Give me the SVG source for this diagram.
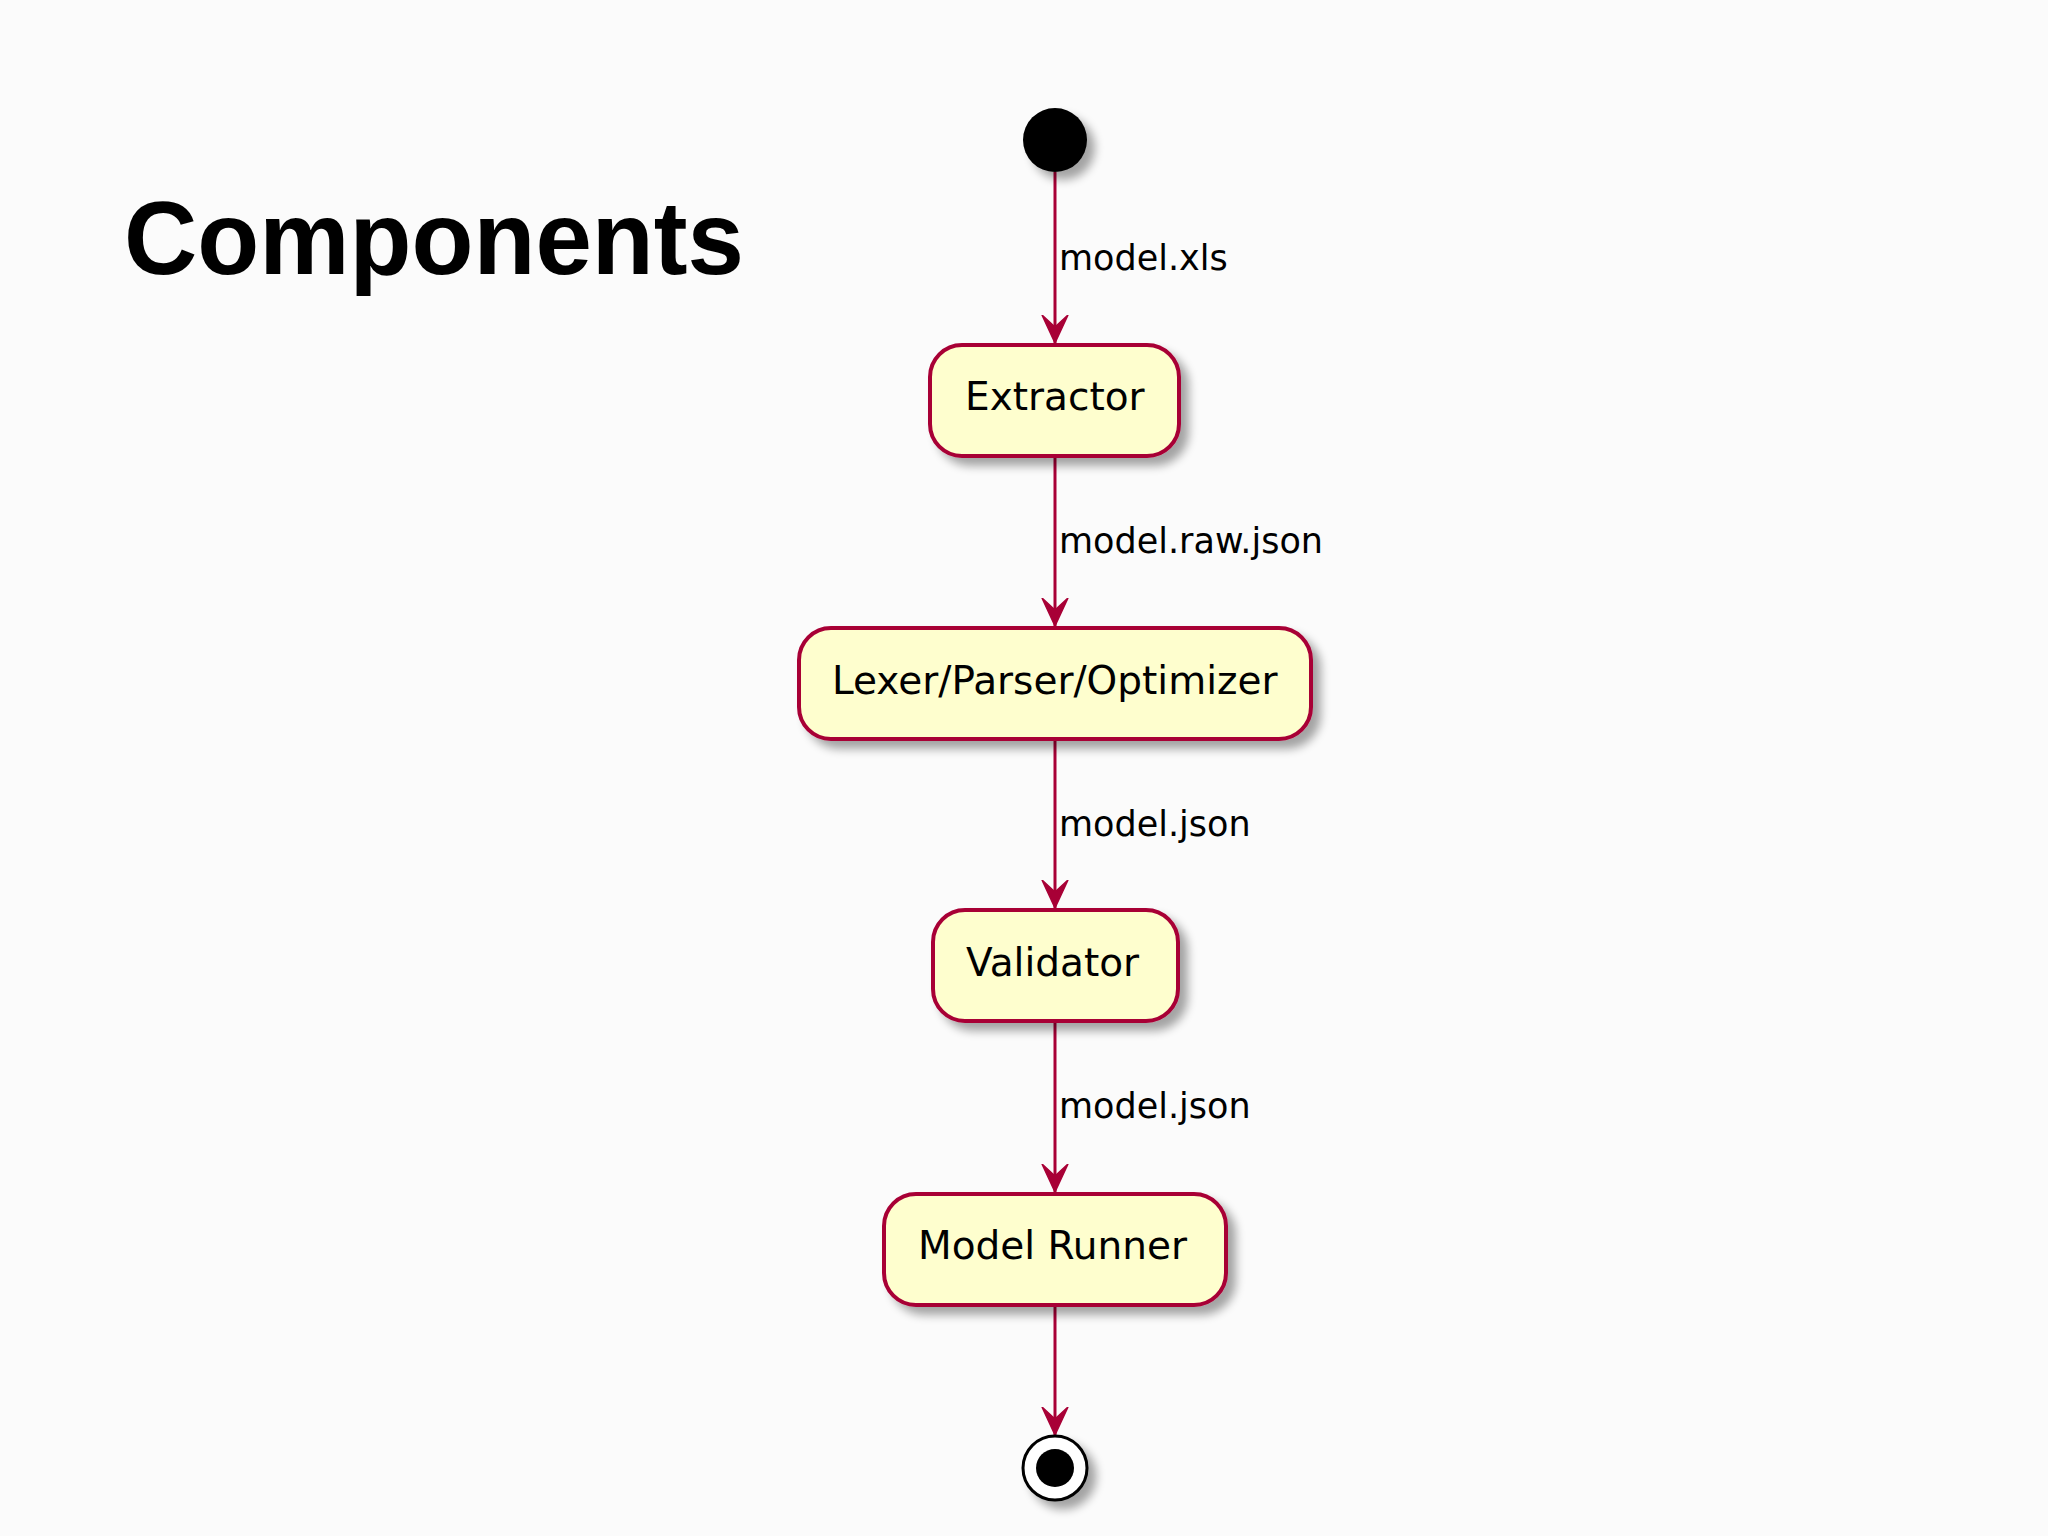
<svg xmlns="http://www.w3.org/2000/svg" width="2048" height="1536" viewBox="0 0 2048 1536">
<defs>
<style>
.node rect{fill:#FEFECE;stroke:#A80036;stroke-width:4;filter:url(#sh)}
.ntext{font-family:"DejaVu Sans",sans-serif;font-size:39px;fill:#000}
.ltext{font-family:"DejaVu Sans",sans-serif;font-size:35px;fill:#000}
.edge{stroke:#A80036;stroke-width:3;fill:none;marker-end:url(#arr)}
</style>
<filter id="sh" x="-20%" y="-20%" width="150%" height="160%">
<feGaussianBlur in="SourceAlpha" stdDeviation="5"/>
<feOffset dx="8" dy="8" result="b"/>
<feComponentTransfer><feFuncA type="linear" slope="0.35"/></feComponentTransfer>
<feMerge><feMergeNode/><feMergeNode in="SourceGraphic"/></feMerge>
</filter>
<marker id="arr" markerUnits="userSpaceOnUse" markerWidth="30" markerHeight="30" refX="28" refY="14" orient="auto" viewBox="0 0 30 30">
<path d="M28,14 L0,1 L12,14 L0,27 Z" fill="#A80036" stroke="#A80036" stroke-width="1.5"/>
</marker>
</defs>
<rect width="2048" height="1536" fill="#FBFBFB"/>
<text x="124" y="274" font-family="Liberation Sans, Arial, sans-serif" font-weight="bold" font-size="104" textLength="620" lengthAdjust="spacingAndGlyphs">Components</text>
<g id="connectors">
<line class="edge" x1="1055" y1="172" x2="1055" y2="343"/>
<text class="ltext" x="1059" y="270">model.xls</text>
<line class="edge" x1="1055" y1="456" x2="1055" y2="626"/>
<text class="ltext" x="1059" y="553">model.raw.json</text>
<line class="edge" x1="1055" y1="739" x2="1055" y2="908"/>
<text class="ltext" x="1059" y="836">model.json</text>
<line class="edge" x1="1055" y1="1021" x2="1055" y2="1192"/>
<text class="ltext" x="1059" y="1118">model.json</text>
<line class="edge" x1="1055" y1="1305" x2="1055" y2="1435"/>
</g>
<g id="start"><circle cx="1055" cy="140" r="32" fill="#000" filter="url(#sh)"/></g>
<g id="extractor" class="node"><rect x="930" y="345" width="249" height="111" rx="32"/><text class="ntext" x="965" y="410">Extractor</text></g>
<g id="lexer" class="node"><rect x="799" y="628" width="512" height="111" rx="32"/><text class="ntext" x="832" y="694">Lexer/Parser/Optimizer</text></g>
<g id="validator" class="node"><rect x="933" y="910" width="245" height="111" rx="32"/><text class="ntext" x="966" y="976">Validator</text></g>
<g id="runner" class="node"><rect x="884" y="1194" width="342" height="111" rx="32"/><text class="ntext" x="918" y="1259">Model Runner</text></g>
<g id="end"><circle cx="1055" cy="1468" r="32" fill="#FFF" stroke="#000" stroke-width="3" filter="url(#sh)"/><circle cx="1055" cy="1468" r="19" fill="#000"/></g>
</svg>
